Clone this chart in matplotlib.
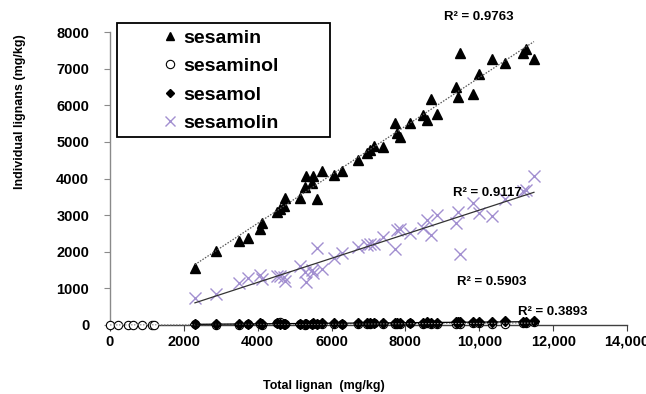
import numpy as np
import matplotlib
matplotlib.use("Agg")
import matplotlib.pyplot as plt
from matplotlib.patches import Rectangle
from matplotlib.lines import Line2D

plt.rcParams['font.family'] = ['Liberation Sans', 'DejaVu Sans']
plt.rcParams['font.weight'] = 'bold'

# ---- data ----
total_lignan = [2300, 2870, 3480, 3730, 4060, 4110, 4510, 4600, 4710, 4740,
                5150, 5280, 5300, 5490, 5460, 5600, 5750, 6070, 6270, 6710,
                6950, 7040, 7160, 7400, 7720, 7780, 7850, 8120, 8470, 8590,
                8680, 8860, 9370, 9420, 9480, 9820, 10000, 10340, 10700, 11190,
                11260, 11480]
sesamin = [1560, 2030, 2300, 2380, 2610, 2780, 3090, 3160, 3250, 3460,
           3460, 3780, 4070, 4070, 3890, 3430, 4200, 4100, 4200, 4500,
           4690, 4780, 4890, 4870, 5520, 5230, 5140, 5510, 5730, 5600,
           6160, 5760, 6510, 6220, 7420, 6310, 6840, 7250, 7140, 7430,
           7530, 7250]
sesamolin = [730, 840, 1140, 1280, 1370, 1250, 1330, 1350, 1300, 1200,
             1610, 1450, 1180, 1410, 1500, 2090, 1520, 1840, 1960, 2120,
             2180, 2200, 2220, 2410, 2070, 2590, 2620, 2500, 2640, 2870,
             2460, 3000, 2780, 3090, 1930, 3340, 3070, 2980, 3430, 3650,
             3690, 4070]
sesamol = [30, 25, 40, 35, 45, 30, 50, 40, 35, 30,
           35, 30, 40, 45, 35, 40, 50, 45, 40, 55,
           60, 50, 55, 60, 45, 65, 55, 60, 50, 70,
           65, 60, 75, 70, 80, 85, 90, 75, 100, 90,
           80, 120]
sesaminol_x = [0, 220, 480, 620, 860, 1130, 1190] + total_lignan
sesaminol = [0, 0, 0, 0, 0, 0, 0,
             20, 0, 10, 15, 20, 10, 60, 90, 40, 20,
             30, 10, 20, 15, 30, 20, 25, 30, 40, 35,
             40, 30, 45, 20, 30, 40, 35, 45, 30, 50,
             40, 35, 30, 50, 40, 60, 45, 30, 40, 50,
             60, 70]

x_ticks = [0, 2000, 4000, 6000, 8000, 10000, 12000, 14000]
x_tick_labels = ['0', '2000', '4000', '6000', '8000', '10,000', '12,000', '14,000']
y_ticks = [0, 1000, 2000, 3000, 4000, 5000, 6000, 7000, 8000]
r2_labels = ['R² = 0.9763', 'R² = 0.9117', 'R² = 0.5903', 'R² = 0.3893']

W, H = 646, 394
fig = plt.figure(figsize=(W / 100, H / 100), dpi=100)
ax = fig.add_axes([110 / W, 1 - 325 / H, 517 / W, 293 / H])
ax.set_xlim(0, 14000)
ax.set_ylim(0, 8000)

purple = '#a28fd0'

# markers
ax.plot(total_lignan, sesamin, linestyle='none', marker='^', ms=7.8,
        color='black', clip_on=False, zorder=3)
ax.plot(sesaminol_x, sesaminol, linestyle='none', marker='o', ms=6,
        mfc='white', mec='black', mew=0.8, clip_on=False, zorder=3)
ax.plot(total_lignan, sesamol, linestyle='none', marker='D', ms=5.5,
        color='black', clip_on=False, zorder=4)
ax.plot(total_lignan, sesamolin, linestyle='none', marker='x', ms=8.5,
        mew=1.0, color=purple, clip_on=False, zorder=3)

# linear trendlines
def trend(xs, ys, **kw):
    xs = np.asarray(xs, float)
    ys = np.asarray(ys, float)
    m, b = np.polyfit(xs, ys, 1)
    xx = np.array([xs.min(), xs.max()])
    ax.plot(xx, m * xx + b, clip_on=False, zorder=5, **kw)

trend(total_lignan, sesamin, color='#555555', lw=0.9, linestyle=(0, (1.2, 1.2)))
trend(total_lignan, sesamolin, color='#333333', lw=0.9)
trend(sesaminol_x, sesaminol, color='#999999', lw=0.9, linestyle=(0, (1.2, 1.2)))
trend(total_lignan, sesamol, color='black', lw=0.9)

# axes styling
for s in ['top', 'right']:
    ax.spines[s].set_visible(False)
ax.spines['left'].set_color('#8a8a8a')
ax.spines['bottom'].set_color('#404040')
ax.spines['left'].set_linewidth(1.0)
ax.spines['bottom'].set_linewidth(1.0)
ax.set_xticks(x_ticks)
ax.set_xticklabels(x_tick_labels)
ax.set_yticks(y_ticks)
ax.tick_params(axis='x', direction='out', length=4, width=0.8, color='#404040',
               pad=3, labelsize=10.5)
ax.tick_params(axis='y', direction='out', length=4, width=0.8, color='#8a8a8a',
               pad=11, labelsize=10.5)
for lab in ax.get_xticklabels() + ax.get_yticklabels():
    lab.set_fontweight('bold')

# axis titles
fig.text(20 / W, 1 - 112 / H, 'Individual lignans (mg/kg)', rotation=90,
         ha='center', va='center', fontsize=9, fontweight='bold')
fig.text(324 / W, 1 - 386 / H, 'Total lignan  (mg/kg)', ha='center', va='center',
         fontsize=9, fontweight='bold')

# R² labels
r2_pos = [(479, 17), (487, 193), (492, 282), (553, 312)]
for (px, py), t in zip(r2_pos, r2_labels):
    fig.text(px / W, 1 - py / H, t, ha='center', va='center', fontsize=9.5,
             fontweight='bold')

# legend
handles = [
    Line2D([], [], linestyle='none', marker='^', ms=6, color='black'),
    Line2D([], [], linestyle='none', marker='o', ms=6, mfc='white', mec='black', mew=0.8),
    Line2D([], [], linestyle='none', marker='D', ms=4.5, color='black'),
    Line2D([], [], linestyle='none', marker='x', ms=7, mew=1.0, color=purple),
]
labels = ['sesamin', 'sesaminol', 'sesamol', 'sesamolin']
fig.legend(handles, labels, loc='upper left',
           bbox_to_anchor=(160 / W, 1 - 29 / H), frameon=False,
           prop={'size': 14, 'weight': 'bold'}, handlelength=1.0,
           handletextpad=0.2, labelspacing=0.56, borderpad=0, borderaxespad=0)
fig.patches.append(Rectangle((117 / W, 1 - 137 / H), 213 / W, 114 / H,
                             transform=fig.transFigure, fill=False,
                             edgecolor='black', linewidth=1.3, zorder=10))

fig.savefig('out.png', dpi=100)
